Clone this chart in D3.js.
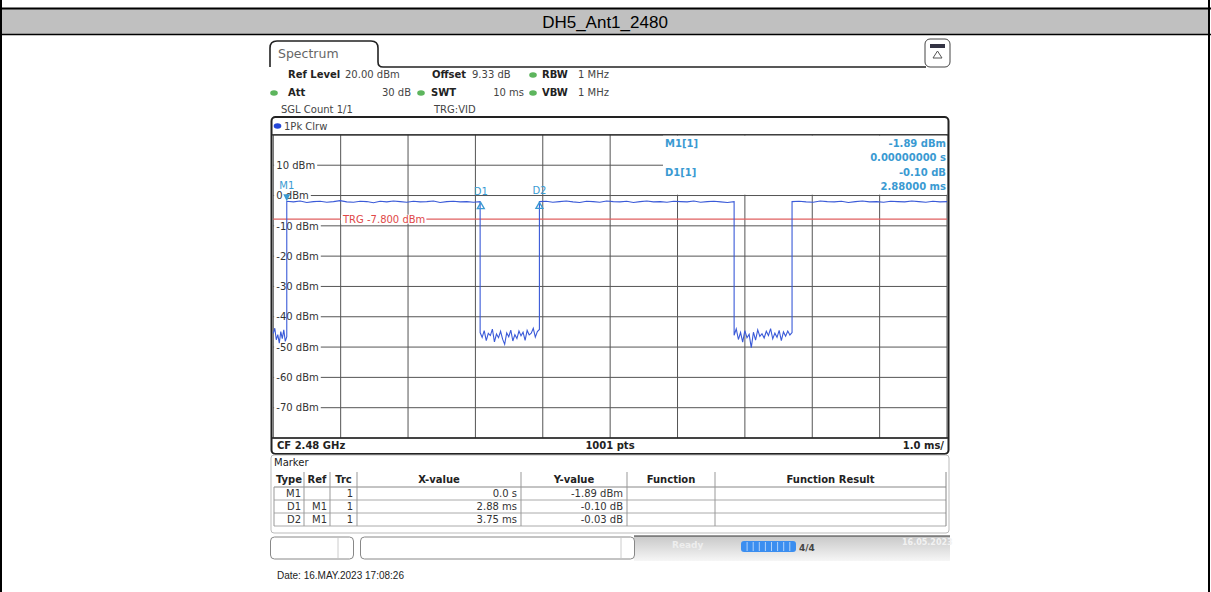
<!DOCTYPE html>
<html><head><meta charset="utf-8">
<script src="https://cdn.jsdelivr.net/npm/d3@7"></script>
<style>
html,body{margin:0;padding:0;background:#fff;}
svg{display:block;}
</style></head>
<body>
<svg id="c" width="1211" height="592"></svg>
<script>
// ---------- data ----------
const title = "DH5_Ant1_2480";
const yTicks = [10, 0, -10, -20, -30, -40, -50, -60, -70];
const xDomain = [-0.2, 9.8];          // ms, relative to M1
const yDomain = [-80, 20];            // dBm
const trgLevel = -7.8;
// trace segments: start/end time (ms) and level readings (dBm)
const segStart = [-0.2, 0.0, 2.87, 3.75, 6.64, 7.50];
const segEnd   = [0.0, 2.87, 3.75, 6.64, 7.50, 9.8];
const lvlPre   = [-45.5,-43.8,-47.6,-45.9,-48.7,-44.9,-47.2,-44.3,-48.1,-46.6];
const lvlHigh1 = [-1.9,-2.1,-1.8,-2.3,-2.0,-1.9,-2.2,-2.0,-1.7,-2.1,-2.2,-1.9,-2.0,-2.4,-1.9,-2.1,-1.8,-2.0,-2.2,-1.9,-2.1,-2.0,-1.8,-2.3,-2.0,-1.9,-2.1,-2.0,-2.2,-2.0];
const lvlLow1  = [-45.2,-46.8,-44.6,-47.9,-45.5,-46.2,-44.1,-48.3,-45.7,-46.9,-44.8,-47.4,-49.1,-45.3,-46.6,-44.4,-48.0,-45.9,-47.2,-44.7,-46.3,-45.1,-47.8,-44.5,-46.0,-45.4,-43.8,-46.7,-44.9,-44.2];
const lvlHigh2 = [-2.0,-1.9,-2.2,-2.0,-1.8,-2.1,-2.3,-1.9,-2.0,-2.2,-1.8,-2.0,-2.1,-1.9,-2.3,-2.0,-1.8,-2.1,-2.0,-2.2,-1.9,-2.0,-2.1,-1.8,-2.2,-2.0,-1.9,-2.1,-2.3,-2.0];
const lvlLow2  = [-46.1,-44.0,-47.5,-45.2,-48.4,-44.6,-46.9,-45.8,-50.2,-45.1,-47.7,-44.3,-46.5,-45.6,-47.0,-44.8,-46.2,-43.9,-47.3,-45.4,-46.8,-44.5,-47.9,-45.0,-46.4,-44.7,-46.0,-45.2];
const lvlHigh3 = [-2.0,-1.9,-2.1,-2.2,-1.8,-2.0,-2.1,-1.9,-2.3,-2.0,-1.8,-2.1,-2.0,-2.2,-1.9,-2.0,-2.1,-1.8,-2.0,-2.2,-1.9,-2.1,-2.0];
const segLevels = [lvlPre, lvlHigh1, lvlLow1, lvlHigh2, lvlLow2, lvlHigh3];
// markers
const mkNames = ["M1", "D1", "D2"];
const mkTime  = [0.0, 2.88, 3.75];
const mkLevel = [-1.89, -1.99, -1.92];
const mkType  = ["M", "D", "D"];
// marker table
const tblHead = ["Type", "Ref", "Trc", "X-value", "Y-value", "Function", "Function Result"];
const tblType = ["M1", "D1", "D2"];
const tblRef  = ["", "M1", "M1"];
const tblTrc  = ["1", "1", "1"];
const tblX    = ["0.0 s", "2.88 ms", "3.75 ms"];
const tblY    = ["-1.89 dBm", "-0.10 dB", "-0.03 dB"];

// ---------- drawing ----------
const svg = d3.select("#c");
const FONT = "'DejaVu Sans', Verdana, sans-serif";

// page frame + title band
svg.append("rect").attr("x",1).attr("y",9).attr("width",1207).attr("height",25).attr("fill","#c0c0c0");
svg.append("line").attr("x1",0).attr("x2",1211).attr("y1",8.5).attr("y2",8.5).attr("stroke","#000").attr("stroke-width",2);
svg.append("line").attr("x1",0).attr("x2",1211).attr("y1",34.5).attr("y2",34.5).attr("stroke","#000").attr("stroke-width",1.5);
svg.append("line").attr("x1",1).attr("x2",1).attr("y1",0).attr("y2",592).attr("stroke","#000").attr("stroke-width",2);
svg.append("line").attr("x1",1209).attr("x2",1209).attr("y1",0).attr("y2",592).attr("stroke","#000").attr("stroke-width",2);
svg.append("text").attr("x",605).attr("y",28).attr("text-anchor","middle")
  .attr("font-family","'Liberation Sans', Arial, sans-serif").attr("font-size",17).text(title);

// Spectrum tab
const tab = d3.path();
tab.moveTo(270, 67); tab.lineTo(270, 48); tab.quadraticCurveTo(270, 41, 277, 41);
tab.lineTo(371, 41); tab.quadraticCurveTo(378, 41, 378, 48); tab.lineTo(378, 62);
tab.quadraticCurveTo(378, 67, 383, 67); tab.lineTo(926, 67);
svg.append("path").attr("d", tab.toString()).attr("fill","none").attr("stroke","#222").attr("stroke-width",1.6);
svg.append("text").attr("x",278).attr("y",58).attr("font-family",FONT).attr("font-size",12.5).attr("fill","#666").text("Spectrum");
// icon top right
svg.append("rect").attr("x",925).attr("y",39).attr("width",25).attr("height",28).attr("rx",5).attr("fill","#fff").attr("stroke","#444").attr("stroke-width",1);
svg.append("rect").attr("x",930).attr("y",44).attr("width",15).attr("height",4).attr("fill","#334");
svg.append("path").attr("d","M937.5,51 L942,58 L933,58 Z").attr("fill","none").attr("stroke","#555").attr("stroke-width",1);

// header lines
function txt(x, y, s, opt={}) {
  return svg.append("text").attr("x",x).attr("y",y).attr("font-family",FONT)
    .attr("font-size",opt.size||10).attr("font-weight",opt.bold?"bold":"normal")
    .attr("fill",opt.fill||"#222").attr("text-anchor",opt.anchor||"start").text(s);
}
function dot(x, y, c) {
  svg.append("ellipse").attr("cx",x).attr("cy",y).attr("rx",3.8).attr("ry",2.8).attr("fill",c||"#5db55d");
}
txt(288, 78, "Ref Level", {bold:true}); txt(345, 78, "20.00 dBm", {fill:"#444"});
txt(432, 78, "Offset", {bold:true}); txt(472, 78, "9.33 dB", {fill:"#444"});
dot(533, 75); txt(542, 78, "RBW", {bold:true}); txt(578, 78, "1 MHz", {fill:"#444"});
dot(274, 93); txt(288, 96, "Att", {bold:true}); txt(411, 96, "30 dB", {fill:"#444", anchor:"end"});
dot(421, 93); txt(431, 96, "SWT", {bold:true}); txt(524, 96, "10 ms", {fill:"#444", anchor:"end"});
dot(533, 93); txt(542, 96, "VBW", {bold:true}); txt(578, 96, "1 MHz", {fill:"#444"});
txt(281, 113, "SGL Count 1/1", {fill:"#444"}); txt(434, 113, "TRG:VID", {fill:"#444"});

// diagram frame
svg.append("rect").attr("x",271.5).attr("y",117).attr("width",677).attr("height",337).attr("rx",4)
  .attr("fill","#fff").attr("stroke","#222").attr("stroke-width",2);
dot(277.5, 126, "#2346d8");
txt(284, 130, "1Pk Clrw", {fill:"#444"});

const x = d3.scaleLinear().domain(xDomain).range([273.3, 947]);
const y = d3.scaleLinear().domain(yDomain).range([438, 134.9]);

// grid
const gGrid = svg.append("g");
gGrid.selectAll("line.vg").data(d3.range(0, 11).map(i => xDomain[0] + i)).join("line").attr("class","vg")
  .attr("x1", d => x(d)).attr("x2", d => x(d)).attr("y1", y(20)).attr("y2", y(-80))
  .attr("stroke","#555").attr("stroke-width",1);
gGrid.selectAll("line.hg").data(d3.range(-80, 21, 10)).join("line").attr("class","hg")
  .attr("x1", x(xDomain[0])).attr("x2", x(xDomain[1])).attr("y1", d => y(d)).attr("y2", d => y(d))
  .attr("stroke","#555").attr("stroke-width",1);
svg.append("line").attr("x1",272).attr("x2",948).attr("y1",y(20)).attr("y2",y(20)).attr("stroke","#222").attr("stroke-width",1.2);
svg.append("line").attr("x1",272).attr("x2",948).attr("y1",y(-80)).attr("y2",y(-80)).attr("stroke","#222").attr("stroke-width",1.5);

// marker info box background
svg.append("rect").attr("x",663).attr("y",y(20)+0.8).attr("width",284).attr("height",y(0)-y(20)-1.6).attr("fill","#fff");

// y labels
const yAxis = svg.append("g").attr("transform",`translate(${x(xDomain[0])},0)`)
  .call(d3.axisRight(y).tickValues(yTicks).tickSize(0).tickFormat(d => d + " dBm"));
yAxis.select(".domain").remove();
yAxis.selectAll("text").attr("x", 3).attr("font-family",FONT).attr("font-size",10).attr("fill","#333")
  .each(function(){
    const bb = this.getBBox();
    d3.select(this.parentNode).insert("rect","text").attr("x",0.8).attr("y",bb.y+1).attr("width",bb.x+bb.width+1.2).attr("height",bb.height-2).attr("fill","#fff");
  });

// TRG line
svg.append("line").attr("x1",x(xDomain[0])).attr("x2",x(xDomain[1])).attr("y1",y(trgLevel)).attr("y2",y(trgLevel))
  .attr("stroke","#e06060").attr("stroke-width",1.2);
const trgT = txt(343, y(trgLevel)+3.5, "TRG  -7.800 dBm", {fill:"#e04848"});
const tb = trgT.node().getBBox();
svg.insert("rect", () => trgT.node()).attr("x",tb.x-1).attr("y",tb.y+1).attr("width",tb.width+2).attr("height",tb.height-2).attr("fill","#fff");

// trace
const pts = [];
segLevels.forEach((arr, i) => {
  const n = arr.length;
  arr.forEach((v, j) => pts.push([segStart[i] + (segEnd[i] - segStart[i]) * j / (n - 1), v]));
});
svg.append("path").datum(pts)
  .attr("d", d3.line().x(d => x(d[0])).y(d => y(d[1])))
  .attr("fill","none").attr("stroke","#3a5ad8").attr("stroke-width",1.1);

// markers
const MC = "#3a9ad2";
mkNames.forEach((nm, i) => {
  const px = x(mkTime[i]), py = y(mkLevel[i]);
  if (mkType[i] === "M") {
    svg.append("path").attr("d", `M${px-3.5},${py-7} L${px+3.5},${py-7} L${px},${py} Z`).attr("fill", MC);
    txt(px, py - 12, nm, {fill: MC, anchor: "middle"});
  } else {
    svg.append("path").attr("d", `M${px},${py+1} L${px+3.5},${py+7} L${px-3.5},${py+7} Z`).attr("fill","none").attr("stroke", MC).attr("stroke-width",1.3);
    txt(px, py - 7, nm, {fill: MC, anchor: "middle"});
  }
});

// marker info (top right)
txt(665, 147, "M1[1]", {fill: MC, bold:true});
txt(946, 147, "-1.89 dBm", {fill: MC, bold:true, anchor:"end"});
txt(946, 161, "0.00000000 s", {fill: MC, bold:true, anchor:"end"});
txt(665, 176, "D1[1]", {fill: MC, bold:true});
txt(946, 176, "-0.10 dB", {fill: MC, bold:true, anchor:"end"});
txt(946, 190, "2.88000 ms", {fill: MC, bold:true, anchor:"end"});

// bottom row
txt(277, 449, "CF 2.48 GHz", {bold:true});
txt(610, 449, "1001 pts", {bold:true, anchor:"middle"});
txt(944, 449, "1.0 ms/", {bold:true, anchor:"end"});

// marker panel
svg.append("rect").attr("x",271).attr("y",455).attr("width",678).attr("height",78).attr("rx",3)
  .attr("fill","#fff").attr("stroke","#bbb").attr("stroke-width",1);
txt(274, 466, "Marker", {fill:"#222"});
const colB = [274, 304, 330, 357, 521, 627, 715, 946];
const rowY = [470, 487, 500, 513, 526];
svg.append("line").attr("x1",274).attr("x2",946).attr("y1",rowY[1]).attr("y2",rowY[1]).attr("stroke","#888");
[2,3,4].forEach(r => svg.append("line").attr("x1",274).attr("x2",946).attr("y1",rowY[r]).attr("y2",rowY[r]).attr("stroke","#aaa"));
colB.slice(1).forEach((cx, i) => svg.append("line").attr("x1",cx).attr("x2",cx).attr("y1",rowY[0]+2).attr("y2",rowY[4]).attr("stroke", i===6?"#888":"#999"));
svg.append("line").attr("x1",274).attr("x2",274).attr("y1",rowY[1]).attr("y2",rowY[4]).attr("stroke","#999");
tblHead.forEach((h, i) => txt((colB[i]+colB[i+1])/2, 483, h, {bold:true, anchor:"middle", fill:"#222"}));
tblType.forEach((v, r) => {
  const yy = rowY[r+1] + 10;
  txt(colB[1]-3, yy, v, {anchor:"end", fill:"#333"});
  txt(colB[2]-3, yy, tblRef[r], {anchor:"end", fill:"#333"});
  txt(colB[3]-4, yy, tblTrc[r], {anchor:"end", fill:"#333"});
  txt(colB[4]-4, yy, tblX[r], {anchor:"end", fill:"#333"});
  txt(colB[5]-4, yy, tblY[r], {anchor:"end", fill:"#333"});
});

// status bar
const grad = svg.append("defs").append("linearGradient").attr("id","sg").attr("x1",0).attr("x2",0).attr("y1",0).attr("y2",1);
grad.append("stop").attr("offset","0").attr("stop-color","#c8c8c8");
grad.append("stop").attr("offset","1").attr("stop-color","#f6f6f6");
svg.append("rect").attr("x",634).attr("y",536).attr("width",316).attr("height",25).attr("fill","url(#sg)");
svg.append("line").attr("x1",634).attr("x2",950).attr("y1",536).attr("y2",536).attr("stroke","#333").attr("stroke-width",1.2);
svg.append("rect").attr("x",270.5).attr("y",537).attr("width",83).attr("height",22).attr("rx",4).attr("fill","#fff").attr("stroke","#888");
svg.append("line").attr("x1",338).attr("x2",338).attr("y1",538).attr("y2",558).attr("stroke","#ccc");
svg.append("rect").attr("x",360.5).attr("y",537).attr("width",274).attr("height",22).attr("rx",4).attr("fill","#fff").attr("stroke","#888");
svg.append("line").attr("x1",621).attr("x2",621).attr("y1",538).attr("y2",558).attr("stroke","#ccc");
txt(672, 548, "Ready", {fill:"#eee", size:9, bold:true});
svg.append("rect").attr("x",741).attr("y",541).attr("width",55).attr("height",11).attr("rx",3).attr("fill","#3b8ef0");
d3.range(1, 9).forEach(i => svg.append("line").attr("x1",741+i*6.1).attr("x2",741+i*6.1).attr("y1",542).attr("y2",551).attr("stroke","#cfe3fb").attr("stroke-width",0.8));
txt(799, 551, "4/4", {fill:"#444", size:9, bold:true});
txt(902, 545, "16.05.2023", {fill:"#f2f2f2", size:8, bold:true});

// date line
svg.append("text").attr("x",277).attr("y",579).attr("font-family","'Liberation Sans', Arial, sans-serif").attr("font-size",10).attr("fill","#222").text("Date: 16.MAY.2023  17:08:26");
</script>
</body></html>
